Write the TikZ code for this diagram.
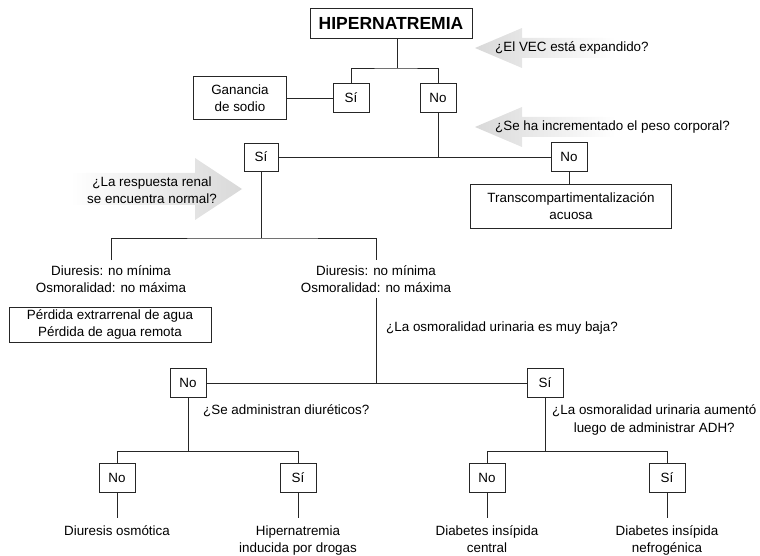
\documentclass[tikz,border=0pt]{standalone}
\usepackage{fontspec}
\setmainfont{Liberation Sans}
\usetikzlibrary{calc}

\tikzset{
  box/.style={draw=black!85, line width=0.9pt, fill=white, inner sep=0pt, align=center},
  yesno/.style={box, minimum width=36pt, minimum height=29pt},
  txt/.style={align=center, inner xsep=0pt, inner ysep=5pt},
  leaf/.style={txt, inner ysep=7.5pt, anchor=north, font=\fontsize{13.4}{17}\selectfont},
  link/.style={draw=black!85, line width=0.9pt},
  hintL/.style={left color=black!15, right color=white, draw=none},
  hintR/.style={left color=white, right color=black!15, draw=none},
}

\begin{document}
\begin{tikzpicture}[x=1pt, y=-1pt, font=\fontsize{13.4}{17.5}\selectfont]
  \useasboundingbox (0,0) rectangle (760,556);

  % grey hint arrows
  \shade[hintL] (475,48) -- (522,28) -- (522,38) -- (615,38) -- (615,58) -- (522,58) -- (522,68) -- cycle;
  \shade[hintL] (475,127) -- (522,107) -- (522,117) -- (615,117) -- (615,137) -- (522,137) -- (522,147) -- cycle;
  \shade[hintR] (242,189) -- (195,158) -- (195,173) -- (70,173) -- (70,205) -- (195,205) -- (195,220) -- cycle;

  % boxes
  \node[box, font=\bfseries\fontsize{17.5}{20}\selectfont, minimum width=162pt, minimum height=30pt] (hiper) at (391,23) {HIPERNATREMIA};
  \node[yesno] (si1) at (351,98) {Sí};
  \node[yesno] (no1) at (438,98) {No};
  \node[box, minimum width=93pt, minimum height=43pt] (sodio) at (240,98) {Ganancia\\de sodio};
  \node[yesno, minimum width=34pt, minimum height=28pt] (si2) at (261,157) {Sí};
  \node[yesno] (no2) at (569,157) {No};
  \node[box, minimum width=201pt, minimum height=44pt] (trans) at (571,206) {Transcompartimentalización\\acuosa};
  \node[txt, anchor=north] (diu1) at (111,260) {Diuresis: no mínima\\Osmoralidad: no máxima};
  \node[txt, anchor=north] (diu2) at (376,260) {Diuresis: no mínima\\Osmoralidad: no máxima};
  \node[box, minimum width=202pt, minimum height=35pt] (perdida) at (110,324.5) {Pérdida extrarrenal de agua\\Pérdida de agua remota};
  \node[yesno] (no3) at (188,383) {No};
  \node[yesno] (si3) at (545,383) {Sí};
  \node[yesno] (no4) at (117,478) {No};
  \node[yesno] (si4) at (298,478) {Sí};
  \node[yesno] (no5) at (487,478) {No};
  \node[yesno] (si5) at (667,478) {Sí};

  % leaves
  \node[leaf] (osmo) at (117,518) {Diuresis osmótica};
  \node[leaf] (drog) at (298,518) {Hipernatremia\\inducida por drogas};
  \node[leaf] (dic) at (487,518) {Diabetes insípida\\central};
  \node[leaf] (din) at (667,518) {Diabetes insípida\\nefrogénica};

  % questions
  \node[txt, anchor=west] (q1) at (495,48) {¿El VEC está expandido?};
  \node[txt, anchor=west] (q2) at (495,127) {¿Se ha incrementado el peso corporal?};
  \node[txt] (q3) at (152,190) {¿La respuesta renal\\se encuentra normal?};
  \node[txt, anchor=west] (q4) at (386,328) {¿La osmoralidad urinaria es muy baja?};
  \node[txt, anchor=west] (q5) at (203,411) {¿Se administran diuréticos?};
  \node[txt, anchor=west] (q6) at (552,420) {¿La osmoralidad urinaria aumentó\\luego de administrar ADH?};

  % tree
  \coordinate (j1) at (397,68);
  \draw[link] (hiper.south -| j1) -- (j1);
  \draw[link] (si1.north) |- (j1) -| (no1.north);
  \draw[link] (sodio.east) -- (si1.west);
  \draw[link] (no1.south) -- (no1.south |- si2.east);
  \draw[link] (si2.east) -- (no2.west);
  \draw[link] (no2.south) -- (no2.south |- trans.north);

  \coordinate (j2) at (261,238);
  \draw[link] (si2.south) -- (j2);
  \draw[link] (diu1.north) |- (j2) -| (diu2.north);
  \draw[link] (diu2.south) -- (diu2.south |- no3.east);
  \draw[link] (no3.east) -- (si3.west);

  \draw[link] (no3.south) -- ++(0,53) coordinate (j3);
  \draw[link] (no4.north) |- (j3) -| (si4.north);
  \draw[link] (si3.south) -- ++(0,53) coordinate (j4);
  \draw[link] (no5.north) |- (j4) -| (si5.north);

  \draw[link] (no4.south) -- (osmo.north);
  \draw[link] (si4.south) -- (drog.north);
  \draw[link] (no5.south) -- (dic.north);
  \draw[link] (si5.south) -- (din.north);
\end{tikzpicture}
\end{document}
